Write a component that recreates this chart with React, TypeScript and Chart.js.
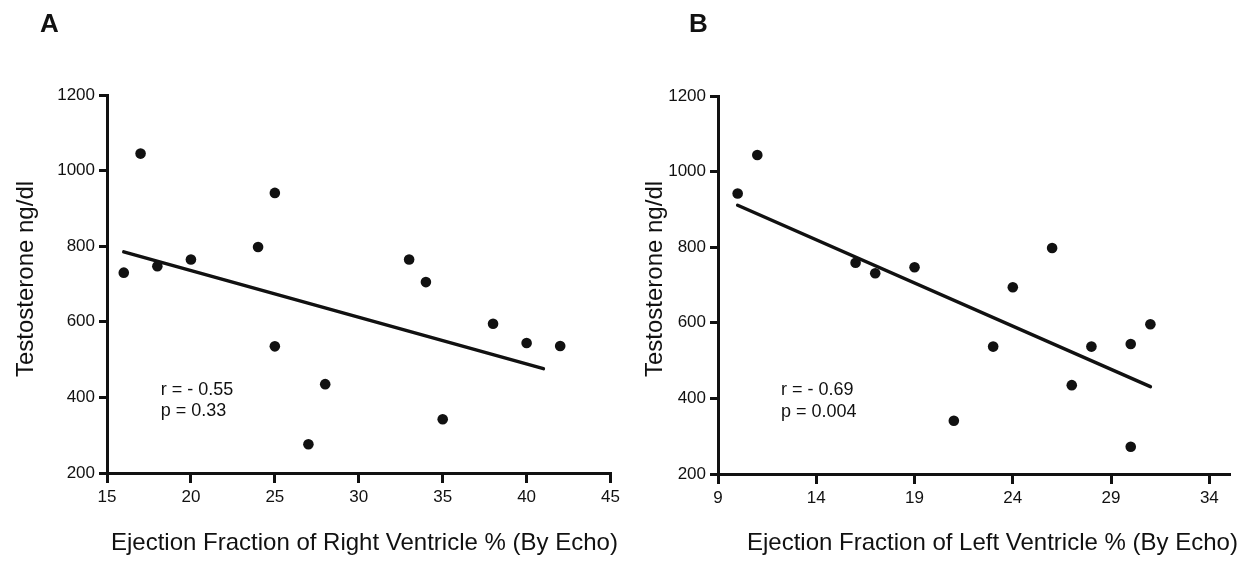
import React, { useEffect, useRef } from "react";
import { Chart, registerables } from "chart.js";

Chart.register(...registerables);

const FONT = '"Liberation Sans", Arial, Helvetica, sans-serif';
const INK = "#111111";

// ---- Panel A data: EF of right ventricle vs testosterone ----
const efRightVentricle = [16, 17, 18, 20, 24, 25, 25, 27, 28, 33, 34, 35, 38, 40, 42];
const testosteroneA = [730, 1045, 747, 765, 798, 941, 535, 276, 435, 765, 705, 342, 595, 544, 536];
const trendAx = [16, 41];
const trendAy = [785, 476];
const xTicksA = [15, 20, 25, 30, 35, 40, 45];
const statsA = ["r = - 0.55", "p = 0.33"];

// ---- Panel B data: EF of left ventricle vs testosterone ----
const efLeftVentricle = [10, 11, 16, 17, 19, 21, 23, 24, 26, 27, 28, 30, 30, 31];
const testosteroneB = [942, 1044, 759, 731, 747, 341, 537, 694, 798, 435, 537, 544, 272, 596];
const trendBx = [10, 31];
const trendBy = [911, 431];
const xTicksB = [9, 14, 19, 24, 29, 34];
const statsB = ["r = - 0.69", "p = 0.004"];

const yTicks = [200, 400, 600, 800, 1000, 1200];

type Panel = {
  letter: string;
  xTitle: string;
  yTitle: string;
  xs: number[];
  ys: number[];
  tx: number[];
  ty: number[];
  xTicks: number[];
  xMin: number;
  xMax: number;
  stats: string[];
  statX: number;
  statY: number[];
};

type Layout = {
  left: number;
  yAxisW: number;
  xAxisH: number;
  padTop: number;
  padRight: number;
  letterX: number;
  xTitleX: number;
  yTitleX: number;
};

const panelA: Panel = {
  letter: "A",
  xTitle: "Ejection Fraction of Right Ventricle % (By Echo)",
  yTitle: "Testosterone ng/dl",
  xs: efRightVentricle,
  ys: testosteroneA,
  tx: trendAx,
  ty: trendAy,
  xTicks: xTicksA,
  xMin: 15,
  xMax: 45,
  stats: statsA,
  statX: 18.2,
  statY: [406, 350],
};

const panelB: Panel = {
  letter: "B",
  xTitle: "Ejection Fraction of Left Ventricle % (By Echo)",
  yTitle: "Testosterone ng/dl",
  xs: efLeftVentricle,
  ys: testosteroneB,
  tx: trendBx,
  ty: trendBy,
  xTicks: xTicksB,
  xMin: 9,
  xMax: 35,
  stats: statsB,
  statX: 12.2,
  statY: [409, 351],
};

const layoutA: Layout = {
  left: 0,
  yAxisW: 107,
  xAxisH: 90,
  padTop: 95,
  padRight: 12,
  letterX: 40,
  xTitleX: 111,
  yTitleX: 33,
};

const layoutB: Layout = {
  left: 624,
  yAxisW: 94,
  xAxisH: 89,
  padTop: 96,
  padRight: 19,
  letterX: 65,
  xTitleX: 123,
  yTitleX: 37.5,
};

function makeChart(canvas: HTMLCanvasElement, p: Panel, L: Layout) {
  const decor = {
    id: "decor",
    afterDraw(chart: any) {
      const { ctx, scales } = chart;
      ctx.save();
      ctx.fillStyle = INK;
      // panel letter
      ctx.font = `bold 26px ${FONT}`;
      ctx.textAlign = "left";
      ctx.textBaseline = "alphabetic";
      ctx.fillText(p.letter, L.letterX, 32);
      // stats text
      ctx.font = `18px ${FONT}`;
      const sx = scales.x.getPixelForValue(p.statX);
      p.stats.forEach((s, i) => {
        ctx.fillText(s, sx, scales.y.getPixelForValue(p.statY[i]));
      });
      // x title
      ctx.font = `24px ${FONT}`;
      ctx.fillText(p.xTitle, L.xTitleX, 550);
      // y title
      ctx.translate(L.yTitleX, 279);
      ctx.rotate(-Math.PI / 2);
      ctx.textAlign = "center";
      ctx.fillText(p.yTitle, 0, 0);
      ctx.restore();
    },
  };

  return new Chart(canvas, {
    type: "scatter",
    data: {
      datasets: [
        {
          data: p.xs.map((x, i) => ({ x, y: p.ys[i] })),
          pointRadius: 5.3,
          pointHoverRadius: 5.3,
          backgroundColor: INK,
          borderWidth: 0,
          showLine: false,
        },
        {
          data: p.tx.map((x, i) => ({ x, y: p.ty[i] })),
          showLine: true,
          borderColor: INK,
          borderWidth: 3.5,
          pointRadius: 0,
          borderCapStyle: "round",
        } as any,
      ],
    },
    options: {
      animation: false,
      responsive: false,
      devicePixelRatio: 1,
      layout: { padding: { top: L.padTop, right: L.padRight, left: 0, bottom: 0 } },
      plugins: { legend: { display: false }, tooltip: { enabled: false } },
      scales: {
        x: {
          type: "linear",
          min: p.xMin,
          max: p.xMax,
          afterBuildTicks: (s: any) => {
            s.ticks = p.xTicks.map((v) => ({ value: v }));
          },
          afterFit: (s: any) => {
            s.height = L.xAxisH;
          },
          grid: {
            drawOnChartArea: false,
            drawTicks: true,
            tickLength: 10,
            color: INK,
            lineWidth: 3,
          },
          border: { display: true, color: INK, width: 3 },
          ticks: {
            color: INK,
            font: { family: FONT, size: 17 },
            padding: 4,
            maxRotation: 0,
            autoSkip: false,
            callback: (v: any) => String(v),
          },
        },
        y: {
          type: "linear",
          min: 200,
          max: 1200,
          afterBuildTicks: (s: any) => {
            s.ticks = yTicks.map((v) => ({ value: v }));
          },
          afterFit: (s: any) => {
            s.width = L.yAxisW;
          },
          grid: {
            drawOnChartArea: false,
            drawTicks: true,
            tickLength: 8,
            color: INK,
            lineWidth: 3,
          },
          border: { display: true, color: INK, width: 3 },
          ticks: {
            color: INK,
            font: { family: FONT, size: 17 },
            padding: 4,
            autoSkip: false,
            callback: (v: any) => String(v),
          },
        },
      },
    },
    plugins: [decor],
  } as any);
}

function PanelChart({ panel, layout }: { panel: Panel; layout: Layout }) {
  const ref = useRef<HTMLCanvasElement | null>(null);
  useEffect(() => {
    if (!ref.current) return;
    const c = makeChart(ref.current, panel, layout);
    return () => c.destroy();
  }, [panel, layout]);
  return (
    <canvas
      ref={ref}
      width={624}
      height={563}
      style={{ position: "absolute", left: layout.left, top: 0, width: 624, height: 563 }}
    />
  );
}

export default function App() {
  return (
    <div
      style={{
        position: "fixed",
        left: 0,
        top: 0,
        width: 1248,
        height: 563,
        background: "#ffffff",
        overflow: "hidden",
      }}
    >
      <PanelChart panel={panelA} layout={layoutA} />
      <PanelChart panel={panelB} layout={layoutB} />
    </div>
  );
}
